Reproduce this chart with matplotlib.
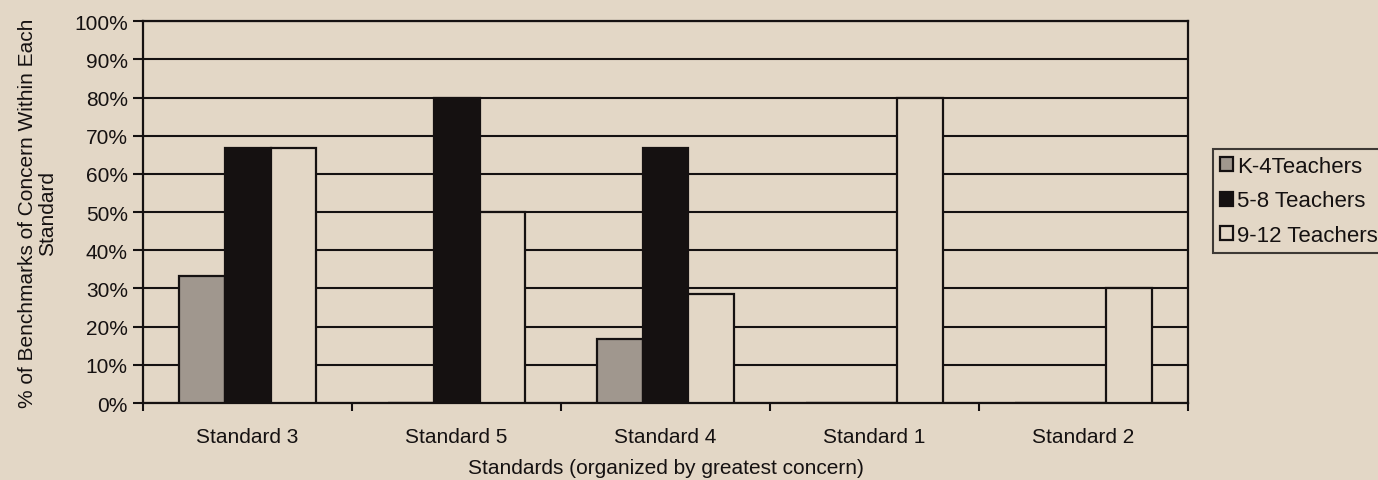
import numpy as np
import matplotlib
matplotlib.use("Agg")
import matplotlib.pyplot as plt

# data (% of benchmarks of concern per standard)
standards = ["Standard 3", "Standard 5", "Standard 4", "Standard 1", "Standard 2"]
k4_teachers = [33.3, 0, 16.7, 0, 0]
g58_teachers = [66.7, 80, 66.7, 0, 0]
g912_teachers = [66.7, 50, 28.6, 80, 30]
series_names = ["K-4Teachers", "5-8 Teachers", "9-12 Teachers"]

bg = "#e3d7c6"
ink = "#151111"

plt.rcParams["font.family"] = ["Liberation Sans", "DejaVu Sans"]
plt.rcParams["font.size"] = 15

fig = plt.figure(figsize=(13.78, 4.81), dpi=100, facecolor=bg)
ax = fig.add_axes([0.1038, 0.160, 0.7583, 0.794])
ax.set_facecolor(bg)

x = np.arange(len(standards))
w = 0.22
series = [k4_teachers, g58_teachers, g912_teachers]
fills = ["#a0978e", ink, bg]
for i, (vals, col, name) in enumerate(zip(series, fills, series_names)):
    ax.bar(x + (i - 1) * w, vals, width=w, color=col, edgecolor=ink,
           linewidth=1.6, label=name, zorder=3)

ax.set_xlim(-0.5, len(standards) - 0.5)
ax.set_ylim(0, 100)
ax.set_yticks(np.arange(0, 101, 10))
ax.set_yticklabels([f"{v}%" for v in range(0, 101, 10)])
ax.yaxis.grid(True, color=ink, linewidth=1.5, zorder=0)
ax.set_axisbelow(True)

# ticks between categories, labels centred under each group
ax.set_xticks(np.arange(-0.5, len(standards), 1.0))
ax.set_xticklabels([])
ax.set_xticks(x, minor=True)
ax.set_xticklabels(standards, minor=True)
ax.tick_params(axis="x", which="major", direction="out", length=6, width=1.5, color=ink)
ax.tick_params(axis="x", which="minor", length=0, pad=17, labelcolor=ink)
ax.tick_params(axis="y", direction="out", length=7, width=1.5, color=ink, pad=4, labelcolor=ink)

for side in ["left", "right", "top", "bottom"]:
    ax.spines[side].set_color(ink)
    ax.spines[side].set_linewidth(1.6)

ax.set_xlabel("Standards (organized by greatest concern)", color=ink, labelpad=9)
ax.set_ylabel("% of Benchmarks of Concern Within Each\nStandard", color=ink,
              labelpad=12, linespacing=1.1)

leg = fig.legend(loc="upper left", bbox_to_anchor=(1213 / 1378, 1 - 150 / 481),
                 frameon=True, fancybox=False, edgecolor=ink, facecolor=bg,
                 fontsize=16, handlelength=0.6, handleheight=0.6, handletextpad=0.2,
                 borderpad=0.3, labelspacing=0.62, borderaxespad=0)
leg.get_frame().set_linewidth(1.5)
for t in leg.get_texts():
    t.set_color(ink)

fig.savefig("out.png", dpi=100, facecolor=bg)
